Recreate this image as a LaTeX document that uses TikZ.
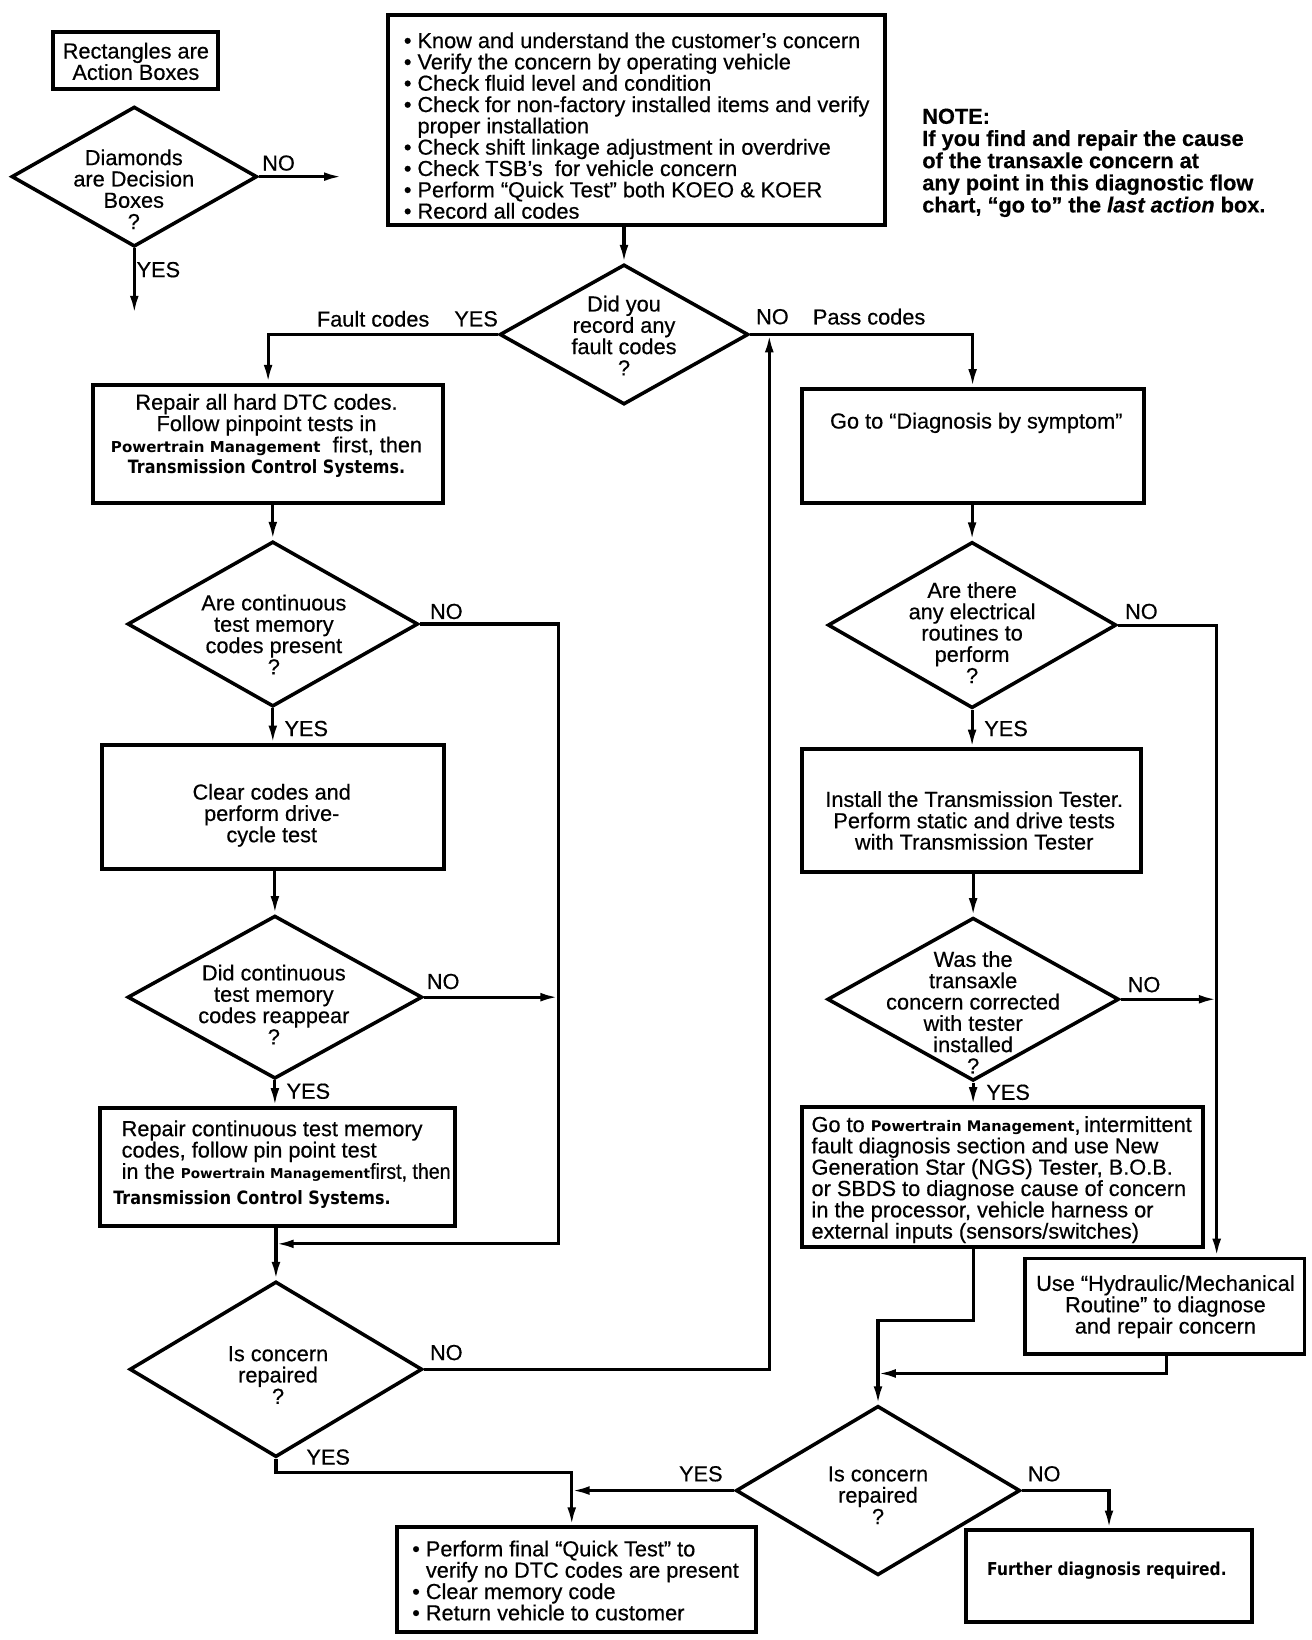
\documentclass[tikz,border=0pt]{standalone}
\usepackage{fontspec}
\setmainfont{Liberation Sans}[FakeBold=0.5]
\newfontfamily\tahf{DejaVu Sans}[FakeStretch=0.87]
\newfontfamily\pmf{DejaVu Sans}
\newfontfamily\narf{Liberation Sans}[FakeStretch=0.9,FakeBold=0.5]
\usetikzlibrary{shapes.geometric,arrows.meta}
\newcommand\msz{\fontsize{10.4}{10.2}\selectfont}
\newcommand\PMt[1]{{\pmf\bfseries\fontsize{#1}{10}\selectfont Powertrain Management}}
\newcommand\TCS{{\tahf\bfseries\fontsize{8.8}{10}\selectfont Transmission Control Systems.}}
\newcommand\mkbox[5]{\node[abox, minimum width={(#4-#2)*0.5pt}, minimum height={(#5-#3)*0.5pt}] (#1) at ({(#2+#4)/2},{(#3+#5)/2}) {};}
\newcommand\mkdia[5]{\node[dbox, minimum width={#4*0.5pt}, minimum height={#5*0.5pt}] (#1) at (#2,#3) {};}
\begin{document}
\begin{tikzpicture}[x=0.5pt,y=-0.5pt,
  abox/.style={draw, line width=1.9pt, rectangle, inner sep=0pt},
  dbox/.style={draw, diamond, line width=1.7pt, inner sep=0pt},
  arr/.style={line width=1.5pt, -{Latex[length=8.5pt,width=4.2pt]}},
  ln/.style={line width=1.5pt},
  tn/.style={font=\msz, inner sep=0pt, align=center, anchor=north},
  tl/.style={font=\msz, inner sep=0pt, align=left, anchor=north west},
  lb/.style={font=\msz, inner sep=0pt, anchor=center}]
\fill[white] (0,0) rectangle (1255,1569);
\useasboundingbox (0,0) rectangle (1255,1569);

% ---------- boxes ----------
\mkbox{leg}{51}{31}{209}{85}
\mkbox{top}{371}{14}{847}{215}
\mkbox{A}{89}{368}{424}{481}
\mkbox{C}{98}{713}{425}{831}
\mkbox{E}{96}{1060}{435}{1173}
\mkbox{G}{767}{372}{1094}{481}
\mkbox{I}{767}{717}{1092}{834}
\mkbox{K}{767}{1059}{1151}{1193}
\mkbox{L}{981}{1204}{1248}{1295}
\mkbox{N}{380}{1461}{723}{1561}
\mkbox{O}{924}{1464}{1198}{1552}

% ---------- diamonds ----------
\mkdia{legd}{128.5}{169}{235}{134}
\mkdia{d1}{597}{320}{238}{134}
\mkdia{B}{261}{597}{278}{158}
\mkdia{D}{263}{954}{282}{156}
\mkdia{F}{264}{1310}{280}{168}
\mkdia{H}{930}{598}{276}{159}
\mkdia{J}{931}{956}{279}{156}
\mkdia{M}{840}{1426}{272}{162}

% ---------- texts ----------
\node[tn] (legt) at (130,40.5) {Rectangles are\\Action Boxes};
\node[tn] (legdt) at (128,142.5) {Diamonds\\are Decision\\Boxes\\?};
\node[tl] (topt) at (386,30.5) {• Know and understand the customer’s concern\\
• Verify the concern by operating vehicle\\
• Check fluid level and condition\\
• Check for non-factory installed items and verify\\
\phantom{• }proper installation\\
• Check shift linkage adjustment in overdrive\\
• Check TSB's\ \ for vehicle concern\\
• Perform “Quick Test” both KOEO \& KOER\\
• Record all codes};
\node[tl, font=\bfseries\fontsize{10.4}{10.6}\selectfont] (note) at (882,103.5) {NOTE:\\
If you find and repair the cause\\
of the transaxle concern at\\
any point in this diagnostic flow\\
chart, “go to” the \textit{last action} box.};
\node[tn] (d1t) at (597,282.5) {Did you\\record any\\fault codes\\?};
\node[tn] (At) at (255,376.5) {Repair all hard DTC codes.\\Follow pinpoint tests in\\\PMt{7.2}\ \ first, then\\\TCS};
\node[tn] (Bt) at (262,568.5) {Are continuous\\test memory\\codes present\\?};
\node[tn] (Ct) at (260,749.5) {Clear codes and\\perform drive-\\cycle test};
\node[tn] (Dt) at (262,922.5) {Did continuous\\test memory\\codes reappear\\?};
\node[tl] (Et) at (116,1071.5) {Repair continuous test memory\\codes, follow pin point test\\in the \PMt{6.5}{\narf first, then}\\[2pt]\hspace*{-4pt}\TCS};
\node[tn] (Ft) at (266,1287.5) {Is concern\\repaired\\?};
\node[tn] (Gt) at (934,394.5) {Go to “Diagnosis by symptom”};
\node[tn] (Ht) at (930,556.5) {Are there\\any electrical\\routines to\\perform\\?};
\node[tn] (It) at (932,756.5) {Install the Transmission Tester.\\Perform static and drive tests\\with Transmission Tester};
\node[tn] (Jt) at (931,909.5) {Was the\\transaxle\\concern corrected\\with tester\\installed\\?};
\node[tl] (Kt) at (776,1067.5) {Go to \PMt{7},\,intermittent\\fault diagnosis section and use New\\Generation Star (NGS) Tester, B.O.B.\\or SBDS to diagnose cause of concern\\in the processor, vehicle harness or\\external inputs (sensors/switches)};
\node[tn] (Lt) at (1115,1219.5) {Use “Hydraulic/Mechanical\\Routine” to diagnose\\and repair concern};
\node[tn] (Mt) at (840,1402.5) {Is concern\\repaired\\?};
\node[tl] (Nt) at (394,1473.5) {• Perform final “Quick Test” to\\\phantom{• }verify no DTC codes are present\\• Clear memory code\\• Return vehicle to customer};
\node[tn, font=\tahf\bfseries\fontsize{8.5}{10}\selectfont] (Ot) at (1059,1494) {Further diagnosis required.};

% ---------- labels ----------
\node[lb] (l1) at (266.5,156) {NO};
\node[lb] (l2) at (151.5,258) {YES};
\node[lb] (l3) at (357,305) {Fault codes};
\node[lb] (l4) at (455.5,305) {YES};
\node[lb] (l5) at (739,303) {NO};
\node[lb] (l6) at (831.5,303) {Pass codes};
\node[lb] (l7) at (427,585) {NO};
\node[lb] (l8) at (293,697) {YES};
\node[lb] (l9) at (424,939) {NO};
\node[lb] (l10) at (295,1044) {YES};
\node[lb] (l11) at (427,1294) {NO};
\node[lb] (l12) at (314,1394) {YES};
\node[lb] (l13) at (1092,585) {NO};
\node[lb] (l14) at (962.5,697) {YES};
\node[lb] (l15) at (1094.5,942) {NO};
\node[lb] (l16) at (964.5,1045) {YES};
\node[lb] (l17) at (670.5,1410) {YES};
\node[lb] (l18) at (999,1410) {NO};

% ---------- helper coordinates ----------
\coordinate (legno) at (327,169);
\coordinate (legyes) at (124,300);
\coordinate (bn) at (534,1190);
\coordinate (ret) at (736,320);
\coordinate (yj) at (547,1409);
\coordinate (rv) at (1164,598);
\coordinate (kd) at (931,1263);
\coordinate (lj) at (1116,1314);

% ---------- connectors ----------
\draw[arr] (legd.east) -- (legno);
\draw[arr] (legd.south) -- (legd.south |- legyes);
\draw[arr] (top.south -| d1.north) -- (d1.north);
\draw[arr] (d1.west) -| (A.north);
\draw[arr] (d1.east) -| (G.north);
\draw[arr] (B.north |- A.south) -- (B.north);
\draw[arr] (B.south) -- (B.south |- C.north);
\draw[arr] (D.north |- C.south) -- (D.north);
\draw[arr] (D.south) -- (D.south |- E.north);
\draw[arr] (F.north |- E.south) -- (F.north);
\draw[arr] (B.east) -| (bn) -- (F.north |- bn);
\draw[arr] (D.east) -- (D.east -| bn);
\draw[arr] (F.east) -| (ret);
\draw[arr] (F.south) |- (yj) -- (yj |- N.north);
\draw[arr] (H.north |- G.south) -- (H.north);
\draw[arr] (H.south) -- (H.south |- I.north);
\draw[arr] (J.north |- I.south) -- (J.north);
\draw[arr] (J.south) -- (J.south |- K.north);
\draw[arr] (H.east) -| (rv |- L.north);
\draw[arr] (J.east) -- (J.east -| rv);
\draw[arr] (kd |- K.south) -- (kd) -| (M.north);
\draw[arr] (lj |- L.south) |- (M.north |- lj);
\draw[arr] (M.west) -- (M.west -| yj);
\draw[arr] (M.east) -| (O.north);
\end{tikzpicture}
\end{document}
